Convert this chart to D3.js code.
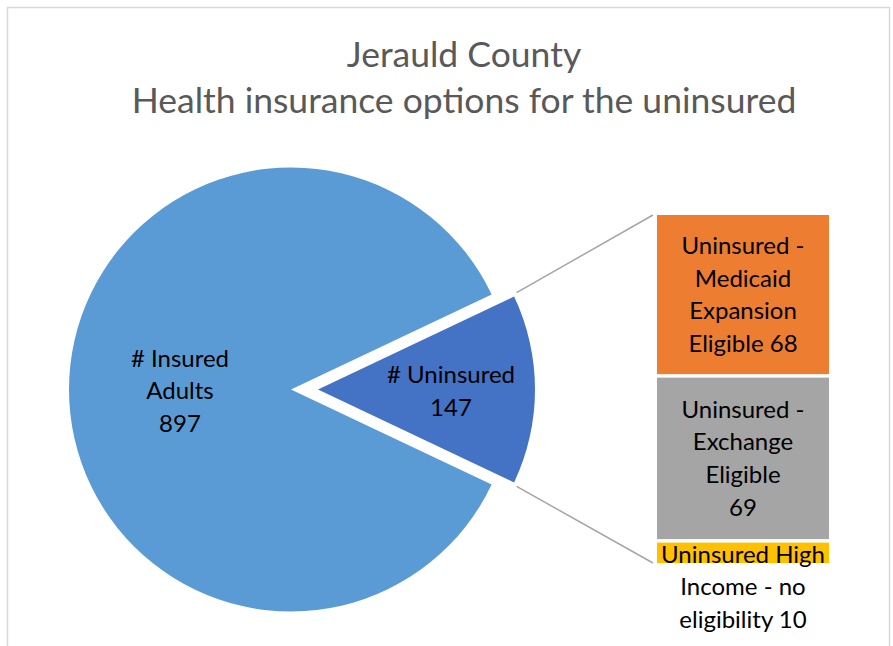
<!DOCTYPE html>
<html>
<head>
<meta charset="utf-8">
<script src="https://cdn.jsdelivr.net/npm/d3@7"></script>
<style>
  body { margin: 0; background: #fff; }
  text { font-family: Lato, "Open Sans", sans-serif; }
</style>
</head>
<body>
<div id="chart"></div>
<script>
// Data
const titleLines = ['Jerauld County', 'Health insurance options for the uninsured'];
const pieCategories = ['# Insured Adults', '# Uninsured'];
const pieValues = [897, 147];
const pieLabels = [['# Insured', 'Adults', '897'], ['# Uninsured', '147']];
const barCategories = ['Uninsured - Medicaid Expansion Eligible', 'Uninsured - Exchange Eligible', 'Uninsured High Income - no eligibility'];
const barValues = [68, 69, 10];
const barLabels = [
  ['Uninsured -', 'Medicaid', 'Expansion', 'Eligible 68'],
  ['Uninsured -', 'Exchange', 'Eligible', '69'],
  ['Uninsured High', 'Income - no', 'eligibility 10']
];

const width = 893;
const height = 646;

const svg = d3.select('#chart')
  .append('svg')
    .attr('width', width)
    .attr('height', height);

// Chart frame
svg.append('path')
  .attr('d', 'M7.5,646 V7.5 H889.5 V646')
  .attr('fill', 'none')
  .attr('stroke', '#d9d9d9')
  .attr('stroke-width', 1.5);

// Title
svg.append('g')
    .attr('fill', '#595959')
    .attr('font-size', 35.5)
    .attr('text-anchor', 'middle')
  .selectAll('text')
  .data(titleLines)
  .join('text')
    .attr('x', 464)
    .attr('y', (d, i) => 67 + i * 46)
    .text(d => d);

// Pie
const cx = 291, cy = 389.5, r = 222;
const sliceR = 217, explode = 27;
const total = d3.sum(pieValues);
const half = Math.PI * pieValues[1] / total;
const pie = d3.pie().sort(null)
  .startAngle(Math.PI / 2 + half)
  .endAngle(Math.PI / 2 + half + 2 * Math.PI);
const arcs = pie(pieValues);
const pieColors = ['#5b9bd5', '#4472c4'];

const pieGroup = svg.append('g')
  .attr('transform', `translate(${cx},${cy})`);
pieGroup.append('path')
  .attr('d', d3.arc().innerRadius(0).outerRadius(r)(arcs[0]))
  .attr('fill', pieColors[0]);
pieGroup.append('path')
  .attr('transform', `translate(${explode},0)`)
  .attr('d', d3.arc().innerRadius(0).outerRadius(sliceR)(arcs[1]))
  .attr('fill', pieColors[1]);

// Bar of pie
const barX = 657, barW = 172, barTop = 215, gap = 3.5;
const yScale = d3.scaleLinear()
  .domain([0, d3.sum(barValues)])
  .range([0, 344]);
const barColors = ['#ed7d31', '#a5a5a5', '#ffc000'];
let acc = 0;
const bars = barValues.map((v, i) => {
  const b = { value: v, y: barTop + yScale(acc) + i * gap, h: yScale(v), i };
  acc += v;
  return b;
});
svg.append('g')
  .selectAll('rect')
  .data(bars)
  .join('rect')
    .attr('x', barX)
    .attr('y', d => d.y)
    .attr('width', barW)
    .attr('height', d => d.h)
    .attr('fill', (d, i) => barColors[i]);

// Connector lines (from the exploded slice corners to the bar stack)
const a0 = arcs[1].startAngle, a1 = arcs[1].endAngle;
const cornerTop = [cx + explode + sliceR * Math.sin(a0) + 2.5, cy - sliceR * Math.cos(a0) - 4];
const cornerBot = [cx + explode + sliceR * Math.sin(a1) + 2.5, cy - sliceR * Math.cos(a1) + 4];
const lastBar = bars[bars.length - 1];
svg.append('g')
    .attr('stroke', '#a5a5a5')
    .attr('stroke-width', 1.5)
  .selectAll('line')
  .data([[cornerTop, [barX - 4, barTop]], [cornerBot, [barX - 4, lastBar.y + lastBar.h - 3]]])
  .join('line')
    .attr('x1', d => d[0][0])
    .attr('y1', d => d[0][1])
    .attr('x2', d => d[1][0])
    .attr('y2', d => d[1][1]);

// White fill of the last bar label
svg.append('rect')
  .attr('x', barX - 2)
  .attr('y', lastBar.y + lastBar.h - 3)
  .attr('width', barW + 4)
  .attr('height', 70)
  .attr('fill', '#fff');

// Data labels
const lineH = 32.6;
const labelFont = 24;
function drawLabel(lines, x, yMid) {
  const g = svg.append('g')
    .attr('fill', '#000')
    .attr('font-size', labelFont)
    .attr('text-anchor', 'middle');
  g.selectAll('text')
    .data(lines)
    .join('text')
      .attr('x', x)
      .attr('y', (d, i) => yMid + (i - (lines.length - 1) / 2) * lineH)
      .attr('dy', '0.35em')
      .text(d => d);
}
drawLabel(pieLabels[0], 180, 391);
drawLabel(pieLabels[1], 451, 391);
drawLabel(barLabels[0], barX + barW / 2, bars[0].y + bars[0].h / 2);
drawLabel(barLabels[1], barX + barW / 2, bars[1].y + bars[1].h / 2);
drawLabel(barLabels[2], barX + barW / 2, 587);
</script>
</body>
</html>
